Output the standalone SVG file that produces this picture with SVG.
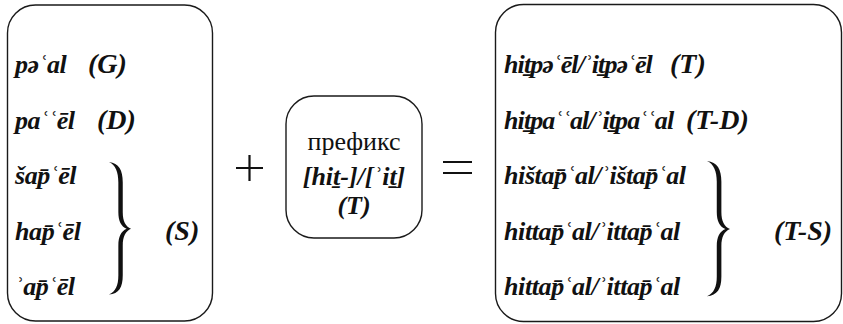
<svg xmlns="http://www.w3.org/2000/svg" xmlns:xlink="http://www.w3.org/1999/xlink" width="843" height="324" viewBox="0 0 843 324">
<style>
  .box { fill: #fff; stroke: #1a1a1a; stroke-width: 1.4; }
  .t { font-family: "Liberation Serif", "DejaVu Serif", serif; font-size: 26px; font-style: italic; font-weight: bold; fill: #111; letter-spacing: -0.4px; }
  .tight { letter-spacing: -0.9px; }
  .lab { font-size: 28px; letter-spacing: 0; }
  .m { font-family: "Liberation Serif", "DejaVu Serif", serif; font-size: 26px; fill: #111; }
  .mi { font-style: italic; font-weight: bold; }
  .op { stroke: #111; stroke-width: 2.2; fill: none; }
  .brace { fill: #111; }
</style>
<defs>
  <path id="brace" d="M0,0 C9,1 12.5,8 12.5,20 L12.5,49 C12.5,58 15,63 20,65.5 C15,68 12.5,73 12.5,82 L12.5,111 C12.5,123 9,129 0,130 C6,127 8.5,121 8.5,111 L8.5,82 C8.5,73 11,68 16,65.5 C11,63 8.5,58 8.5,49 L8.5,20 C8.5,10 6,3 0,0 Z"/>
</defs>
<rect width="843" height="324" fill="#fff"/>

<g id="node-left">
  <rect class="box" x="7.5" y="5" width="205" height="316" rx="28" ry="28"/>
  <text class="t" x="15" y="73">pəʿal</text>
  <text class="t lab" x="88" y="73">(G)</text>
  <text class="t" x="15" y="129">paʿʿēl</text>
  <text class="t lab" x="97" y="129">(D)</text>
  <text class="t" x="15" y="184">šap̄ʿēl</text>
  <text class="t" x="15" y="240">hap̄ʿēl</text>
  <text class="t" x="15" y="295">ʾap̄ʿēl</text>
  <use xlink:href="#brace" class="brace" transform="translate(109,162) scale(1.1,1.02)"/>
  <text class="t lab" x="165" y="240">(S)</text>
</g>

<g id="node-prefix">
  <rect class="box" x="286" y="96" width="136" height="142" rx="28" ry="28"/>
  <text class="m" x="354" y="150" text-anchor="middle">префикс</text>
  <text class="m mi" x="354" y="185" text-anchor="middle" font-size="27">[hiṯ-]/[ʾiṯ]</text>
  <text class="m mi" x="354" y="214" text-anchor="middle">(T)</text>
</g>

<g id="node-right">
  <rect class="box" x="495.5" y="4.5" width="346" height="317" rx="28" ry="28"/>
  <text class="t tight" x="504" y="73">hiṯpəʿēl/ʾiṯpəʿēl</text>
  <text class="t lab" x="670" y="73">(T)</text>
  <text class="t tight" x="504" y="129">hiṯpaʿʿal/ʾiṯpaʿʿal</text>
  <text class="t lab" x="686" y="129">(T-D)</text>
  <text class="t" x="504" y="184">hištap̄ʿal/ʾištap̄ʿal</text>
  <text class="t" x="504" y="240">hittap̄ʿal/ʾittap̄ʿal</text>
  <text class="t" x="504" y="295">hittap̄ʿal/ʾittap̄ʿal</text>
  <use xlink:href="#brace" class="brace" transform="translate(707,161) scale(1.15,1.04)"/>
  <text class="t lab" x="774" y="240">(T-S)</text>
</g>

<g id="connectors">
  <path class="op" d="M236,168 H263 M249.5,155 V181"/>
  <path class="op" d="M443,162 H472 M443,173 H472"/>
</g>
</svg>
